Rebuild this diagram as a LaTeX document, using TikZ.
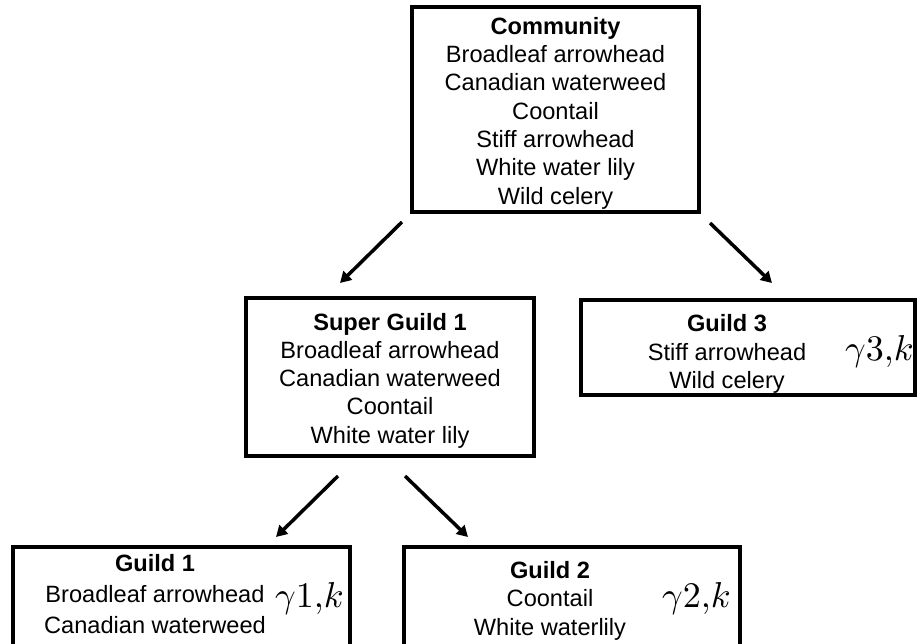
\documentclass[tikz,border=0pt]{standalone}
\usepackage{graphicx}
\usepackage{fontspec}
\setmainfont{Liberation Sans}
\usetikzlibrary{arrows.meta}
\begin{document}
\begin{tikzpicture}[x=1pt,y=-1pt,
  box/.style={draw=black, line width=4pt, rectangle, inner sep=0pt},
  txt/.style={align=center, inner sep=0pt, font=\fontsize{23.6}{28.3}\selectfont},
  gam/.style={anchor=base west, inner sep=0pt},
  arr/.style={line width=3.5pt, -{Triangle[length=11pt,width=12pt]}}]
\useasboundingbox (0,0) rectangle (917,643);
\clip (0,0) rectangle (917,643);
% boxes
\node[box, minimum width=287pt, minimum height=205pt] (comm) at (555.5,109.5) {};
\node[box, minimum width=288pt, minimum height=158pt] (super) at (390,377) {};
\node[box, minimum width=334pt, minimum height=95pt] (g3) at (748,347.5) {};
\node[box, minimum width=337pt, minimum height=113pt] (g1) at (181.5,603.5) {};
\node[box, minimum width=336pt, minimum height=113pt] (g2) at (572,603.5) {};
% texts
\node[txt] (commt) at (555.5,113) {\textbf{Community}\\Broadleaf arrowhead\\Canadian waterweed\\Coontail\\Stiff arrowhead\\White water lily\\Wild celery};
\node[txt] (supert) at (390,380.5) {\textbf{Super Guild 1}\\Broadleaf arrowhead\\Canadian waterweed\\Coontail\\White water lily};
\node[txt] (g3t) at (727,354) {\textbf{Guild 3}\\Stiff arrowhead\\Wild celery};
\node[txt, font=\fontsize{23.6}{31}\selectfont] (g1t) at (155,594.4) {\textbf{Guild 1}\\Broadleaf arrowhead\\Canadian waterweed};
\node[txt, font=\fontsize{23.6}{28.5}\selectfont] (g2t) at (550,600.4) {\textbf{Guild 2}\\Coontail\\White waterlily};
% gamma labels
\node[gam] (g3g) at (845,360) {\scalebox{3.6}{$\gamma 3{,}k$}};
\node[gam] (g1g) at (275,607) {\scalebox{3.6}{$\gamma 1{,}k$}};
\node[gam] (g2g) at (662,607) {\scalebox{3.6}{$\gamma 2{,}k$}};
% arrow ends
\coordinate (a1s) at (402,222); \coordinate (a1e) at (340,283);
\coordinate (a2s) at (710,223); \coordinate (a2e) at (772,283);
\coordinate (a3s) at (338,476); \coordinate (a3e) at (276,537);
\coordinate (a4s) at (405,476); \coordinate (a4e) at (468,537);
\draw[arr] (a1s) -- (a1e);
\draw[arr] (a2s) -- (a2e);
\draw[arr] (a3s) -- (a3e);
\draw[arr] (a4s) -- (a4e);
\end{tikzpicture}
\end{document}
